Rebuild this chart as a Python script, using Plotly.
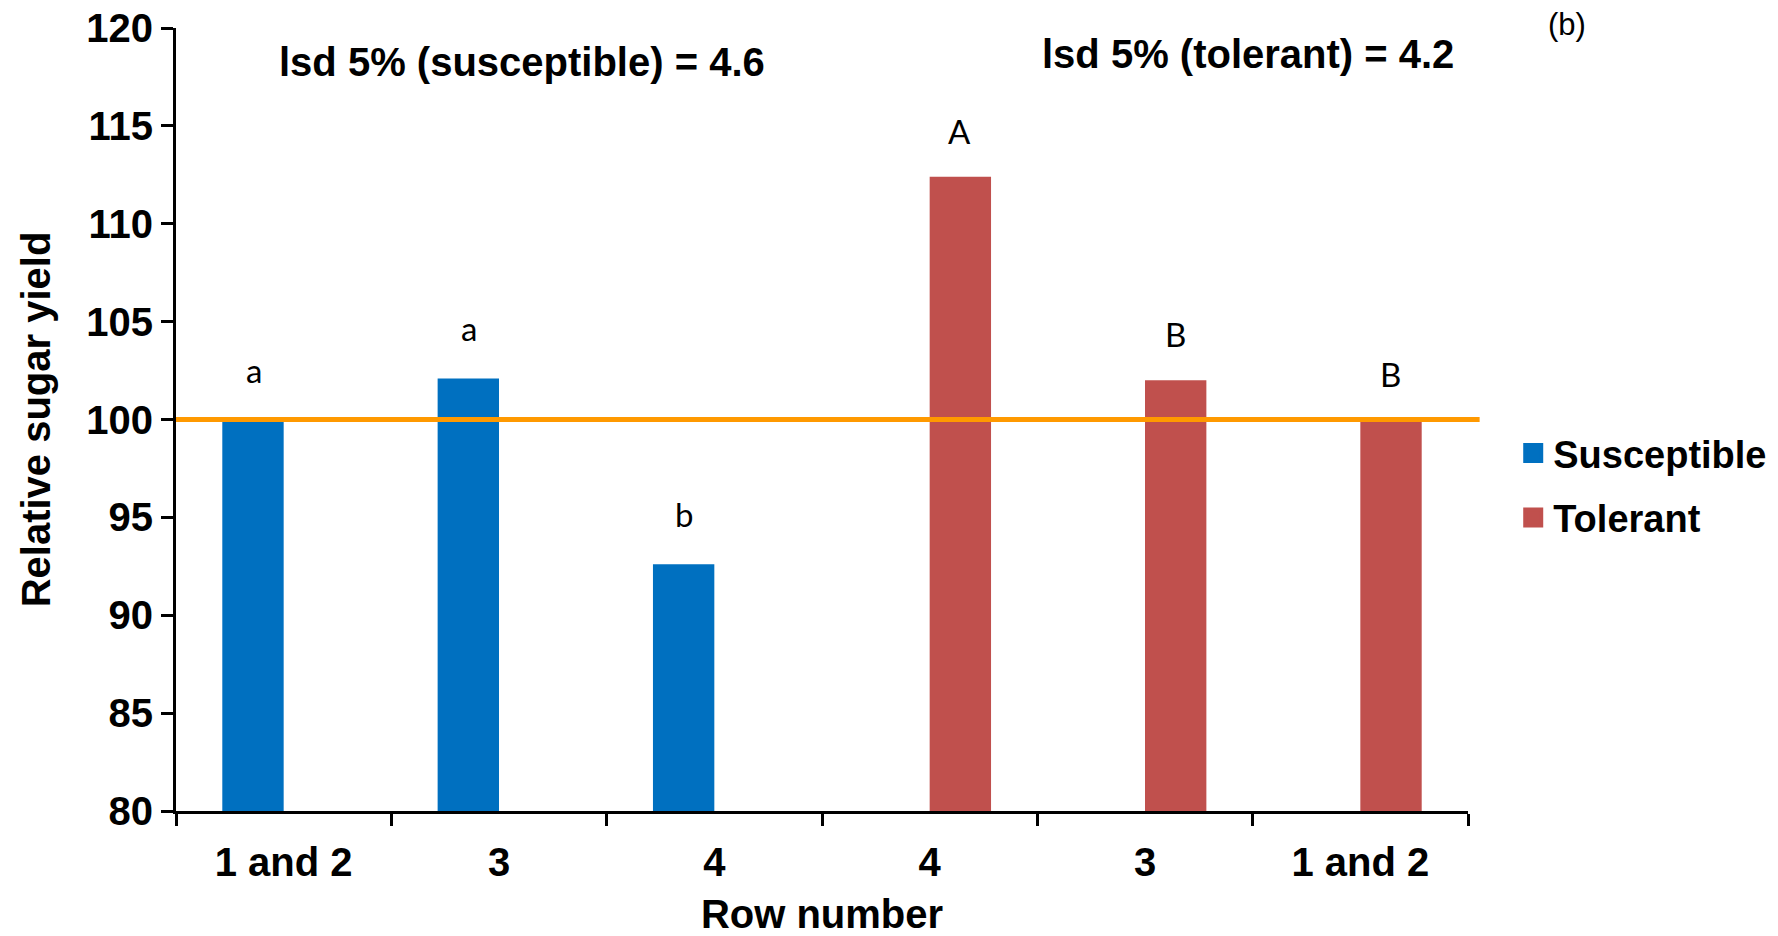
import plotly.graph_objects as go

categories = ["S12", "S3", "S4", "T4", "T3", "T12"]
tick_labels = ["1 and 2", "3", "4", "4", "3", "1 and 2"]
susceptible = [100.0, 102.1, 92.6, None, None, None]
tolerant = [None, None, None, 112.4, 102.0, 100.0]
sus_letters = ["a", "a", "b"]
tol_letters = ["A", "B", "B"]
reference_value = 100
lsd_texts = ["lsd 5% (susceptible) = 4.6", "lsd 5% (tolerant) = 4.2"]

BLUE = "#0070C0"
RED = "#C0504D"
ORANGE = "#FF9900"
FONT = "Liberation Sans, Arial, sans-serif"
LETTER_FONT = "Lato, Noto Sans, sans-serif"

L, R, T, B = 176, 310, 28, 125
PW, PH = 1778 - L - R, 936 - T - B

fig = go.Figure()
fig.add_trace(go.Bar(x=categories, y=susceptible, name="Susceptible", showlegend=False,
                     marker=dict(color=BLUE, line=dict(width=0))))
fig.add_trace(go.Bar(x=categories, y=tolerant, name="Tolerant", showlegend=False,
                     marker=dict(color=RED, line=dict(width=0))))
# legend entries with square keys
for name, col, grp in [("Susceptible", BLUE, "s"), ("Tolerant", RED, "t")]:
    fig.add_trace(go.Scatter(x=[None], y=[None], mode="markers", name=name,
                             legendgroup=grp,
                             marker=dict(symbol="square", size=20, color=col,
                                         line=dict(width=4, color=col))))

# reference line at 100
fig.add_shape(type="line", xref="paper", x0=0, x1=1.009, yref="y",
              y0=reference_value, y1=reference_value,
              line=dict(color=ORANGE, width=5), layer="above")

# significance letters
for cat, v, t in zip(categories[:3], susceptible[:3], sus_letters):
    fig.add_annotation(x=cat, y=v, text=t, showarrow=False, xshift=-30, yshift=50,
                       font=dict(family=LETTER_FONT, size=33, color="black"))
for cat, v, t in zip(categories[3:], tolerant[3:], tol_letters):
    fig.add_annotation(x=cat, y=v, text=t, showarrow=False, xshift=30, yshift=46,
                       font=dict(family=LETTER_FONT, size=33, color="black"))

fig.add_annotation(xref="paper", yref="paper", x=(522 - L) / PW, y=(811 - 62) / PH,
                   xanchor="center", yanchor="middle",
                   text=lsd_texts[0], showarrow=False,
                   font=dict(family=FONT, size=40, color="black", weight="bold"))
fig.add_annotation(xref="paper", yref="paper", x=(1248 - L) / PW, y=(811 - 54) / PH,
                   xanchor="center", yanchor="middle",
                   text=lsd_texts[1], showarrow=False,
                   font=dict(family=FONT, size=40, color="black", weight="bold"))
fig.add_annotation(xref="paper", yref="paper", x=(1567 - L) / PW, y=(811 - 25) / PH,
                   xanchor="center", yanchor="middle",
                   text="(b)", showarrow=False,
                   font=dict(family=FONT, size=31, color="black"))

fig.update_layout(
    width=1778, height=936,
    margin=dict(l=L, r=R, t=T, b=B, autoexpand=False),
    paper_bgcolor="white", plot_bgcolor="white",
    barmode="group", bargap=0.43, bargroupgap=0,
    font=dict(family=FONT, color="black"),
    legend=dict(x=1.035, y=0.497, xanchor="left", yanchor="top",
                font=dict(family=FONT, size=38, color="black", weight="bold"),
                tracegroupgap=12, itemwidth=30),
    showlegend=True,
)
fig.update_xaxes(
    type="category", categoryorder="array", categoryarray=categories,
    tickmode="array", tickvals=categories, ticktext=tick_labels,
    tickson="boundaries", ticks="outside", ticklen=12, tickwidth=3, tickcolor="black",
    showline=True, linecolor="black", linewidth=3, showgrid=False,
    automargin=False, ticklabelstandoff=14,
    tickfont=dict(family=FONT, size=40, color="black", weight="bold"),
    title=dict(text="Row number", standoff=27,
               font=dict(family=FONT, size=40, color="black", weight="bold")),
)
fig.update_yaxes(
    range=[80, 120], dtick=5, tick0=80,
    ticks="outside", ticklen=12, tickwidth=3, tickcolor="black",
    showline=True, linecolor="black", linewidth=3, showgrid=False, zeroline=False,
    automargin=False,
    tickfont=dict(family=FONT, size=40, color="black", weight="bold"),
    title=dict(text="Relative sugar yield", standoff=24,
               font=dict(family=FONT, size=40, color="black", weight="bold")),
)

fig.write_html("out.html", config={"displayModeBar": False},
               post_script="document.body.style.margin='0px';document.body.style.overflow='hidden';")
